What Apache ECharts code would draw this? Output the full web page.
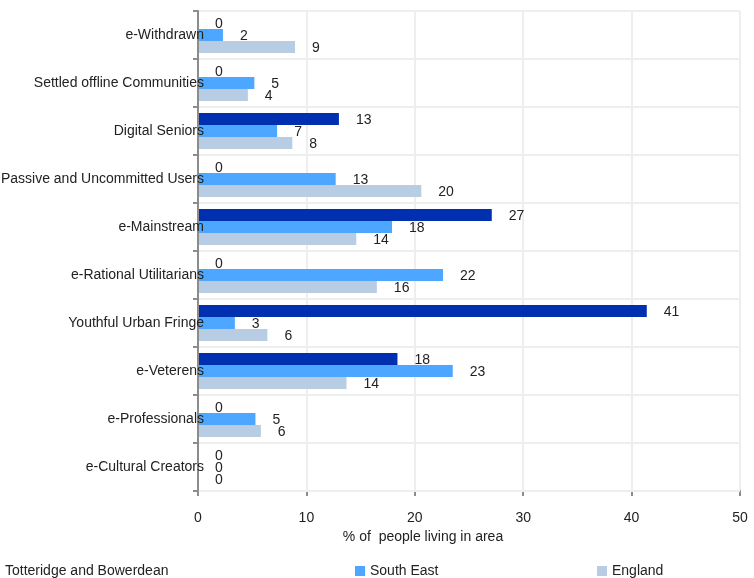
<!DOCTYPE html>
<html><head><meta charset="utf-8">
<script src="https://cdn.jsdelivr.net/npm/echarts@6/dist/echarts.min.js"></script>
<style>html,body{margin:0;padding:0;background:#fff}#c{width:754px;height:578px}</style>
</head><body><div id="c"></div>
<script>
var categories = ['e-Withdrawn','Settled offline Communities','Digital Seniors','Passive and Uncommitted Users','e-Mainstream','e-Rational Utilitarians','Youthful Urban Fringe','e-Veterens','e-Professionals','e-Cultural Creators'];
var seriesNames = ['Totteridge and Bowerdean','South East','England'];
// bar lengths
var totteridge = [0, 0, 13.0, 0, 27.1, 0, 41.4, 18.4, 0, 0];
var southEast = [2.3, 5.2, 7.3, 12.7, 17.9, 22.6, 3.4, 23.5, 5.3, 0];
var england = [8.95, 4.6, 8.7, 20.6, 14.6, 16.5, 6.4, 13.7, 5.8, 0];
// value labels as printed in the picture
var totteridgeLabels = [0, 0, 13, 0, 27, 0, 41, 18, 0, 0];
var southEastLabels = [2, 5, 7, 13, 18, 22, 3, 23, 5, 0];
var englandLabels = [9, 4, 8, 20, 14, 16, 6, 14, 6, 0];
var xTicks = [0, 10, 20, 30, 40, 50];

var FONT = '"Liberation Sans", Arial, sans-serif';
var colors = ['#0030b0', '#4da6ff', '#b8cce4'];
var values = [totteridge, southEast, england];
var labels = [totteridgeLabels, southEastLabels, englandLabels];

var chart = echarts.init(document.getElementById('c'));
function mkSeries(i) {
  return {
    name: seriesNames[i], type: 'bar', data: values[i],
    itemStyle: {color: colors[i]},
    barGap: '0%', barCategoryGap: '25%',
    label: {show: true, position: 'right', distance: 17, offset: [0, 1], color: '#222', fontSize: 14, fontFamily: FONT,
      formatter: function (p) { return labels[i][p.dataIndex]; }}
  };
}
chart.setOption({
  animation: false,
  color: colors,
  grid: {left: 198, right: 14, top: 11, bottom: 87, containLabel: false, outerBoundsMode: 'none'},
  xAxis: {
    type: 'value', min: xTicks[0], max: xTicks[xTicks.length - 1], interval: 10,
    name: '% of  people living in area', nameLocation: 'middle', nameGap: 34,
    nameTextStyle: {color: '#222', fontSize: 14, fontFamily: FONT, padding: [0, 92, 0, 0]},
    axisLine: {show: true, lineStyle: {color: '#8c8c8c', width: 2}},
    axisTick: {show: true, length: 5, lineStyle: {color: '#8c8c8c', width: 2}},
    axisLabel: {color: '#222', fontSize: 14, fontFamily: FONT, margin: 20},
    splitLine: {show: true, lineStyle: {color: '#eeeeee', width: 2}}
  },
  yAxis: {
    type: 'category', data: categories, inverse: true, z: 10,
    axisLine: {show: true, lineStyle: {color: '#8c8c8c', width: 2}},
    axisTick: {show: true, length: 5, lineStyle: {color: '#8c8c8c', width: 2}},
    axisLabel: {color: '#222', fontSize: 14, fontFamily: FONT, margin: -6},
    splitLine: {show: true, lineStyle: {color: '#eeeeee', width: 2}}
  },
  legend: [
    {data: [seriesNames[0]], left: -5, top: 559, itemWidth: 0, itemHeight: 10,
     textStyle: {color: '#222', fontSize: 14, fontFamily: FONT}},
    {data: [seriesNames[1]], left: 350, top: 559, itemWidth: 10, itemHeight: 10, icon: 'rect',
     textStyle: {color: '#222', fontSize: 14, fontFamily: FONT}},
    {data: [seriesNames[2]], left: 592, top: 559, itemWidth: 10, itemHeight: 10, icon: 'rect',
     textStyle: {color: '#222', fontSize: 14, fontFamily: FONT}}
  ],
  series: [mkSeries(0), mkSeries(1), mkSeries(2)]
});
</script></body></html>
